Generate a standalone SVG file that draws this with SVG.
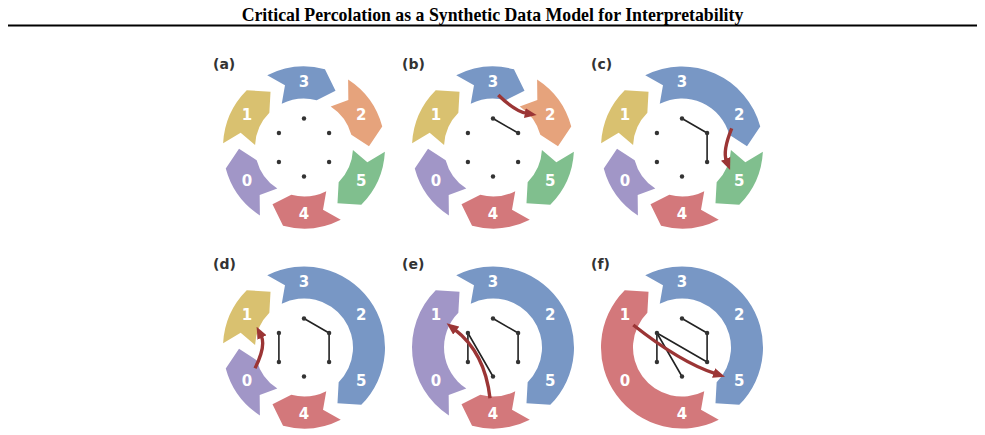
<svg xmlns="http://www.w3.org/2000/svg" xmlns:xlink="http://www.w3.org/1999/xlink" width="985" height="435" viewBox="0 0 985 435">
<style>
.title{font-family:"Liberation Serif","Times New Roman",serif;font-weight:bold;font-size:17.8px;fill:#000;text-anchor:middle}
.pl{font-family:"DejaVu Sans",sans-serif;font-weight:bold;font-size:14px;fill:#333}
.nl{font-family:"DejaVu Sans",sans-serif;font-weight:bold;font-size:15px;fill:#fff;text-anchor:middle}
.edge{stroke:#222;stroke-width:1.6;fill:none;stroke-linecap:round}
.dot{fill:#333}
.arr{stroke:#9b3535;stroke-width:3.4;fill:none;marker-end:url(#ah)}
.c3{fill:#7897c5}.c2{fill:#e6a37c}.c5{fill:#80bf8e}.c4{fill:#d3787b}.c0{fill:#a196c7}.c1{fill:#d9c170}
</style>
<defs>
<marker id="ah" markerUnits="userSpaceOnUse" markerWidth="12" markerHeight="10" viewBox="0 0 12 10" refX="2" refY="5" orient="auto">
<path d="M0,0 L12,5 L0,10 Z" fill="#9b3535"/>
</marker>
<path id="s3" d="M-36.77,-72.17 A81,81 0 0 1 20.96,-78.24 L31.51,-56.85 L12.68,-47.33 A49,49 0 0 0 -22.25,-43.66 L-19.01,-62.16 Z"/>
<path id="s2" d="M44.11,-67.93 A81,81 0 0 1 78.24,-20.96 L64.99,-1.13 L47.33,-12.68 A49,49 0 0 0 26.69,-41.10 L44.33,-47.54 Z"/>
<path id="s5" d="M80.89,4.24 A81,81 0 0 1 57.28,57.28 L33.48,55.72 L34.65,34.65 A49,49 0 0 0 48.93,2.56 L63.34,14.63 Z"/>
<path id="s4" d="M36.77,72.17 A81,81 0 0 1 -20.96,78.24 L-31.51,56.85 L-12.68,47.33 A49,49 0 0 0 22.25,43.66 L19.01,62.16 Z"/>
<path id="s0" d="M-44.11,67.93 A81,81 0 0 1 -78.24,20.96 L-64.99,1.13 L-47.33,12.68 A49,49 0 0 0 -26.69,41.10 L-44.33,47.54 Z"/>
<path id="s1" d="M-80.89,-4.24 A81,81 0 0 1 -57.28,-57.28 L-33.48,-55.72 L-34.65,-34.65 A49,49 0 0 0 -48.93,-2.56 L-63.34,-14.63 Z"/>
<path id="s32" d="M-36.77,-72.17 A81,81 0 0 1 78.24,-20.96 L64.99,-1.13 L47.33,-12.68 A49,49 0 0 0 -22.25,-43.66 L-19.01,-62.16 Z"/>
<path id="s325" d="M-36.77,-72.17 A81,81 0 0 1 57.28,57.28 L33.48,55.72 L34.65,34.65 A49,49 0 0 0 -22.25,-43.66 L-19.01,-62.16 Z"/>
<path id="s01" d="M-44.11,67.93 A81,81 0 0 1 -57.28,-57.28 L-33.48,-55.72 L-34.65,-34.65 A49,49 0 0 0 -26.69,41.10 L-44.33,47.54 Z"/>
<path id="s401" d="M36.77,72.17 A81,81 0 0 1 -57.28,-57.28 L-33.48,-55.72 L-34.65,-34.65 A49,49 0 0 0 22.25,43.66 L19.01,62.16 Z"/>
<g id="labels">
<text class="nl" x="0" y="-60.5">3</text>
<text class="nl" x="57.16" y="-27.5">2</text>
<text class="nl" x="57.16" y="38.5">5</text>
<text class="nl" x="0" y="71.5">4</text>
<text class="nl" x="-57.16" y="38.5">0</text>
<text class="nl" x="-57.16" y="-27.5">1</text>
</g>
<g id="dots">
<circle class="dot" cx="0" cy="-29" r="2.2"/>
<circle class="dot" cx="25.1" cy="-14.5" r="2.2"/>
<circle class="dot" cx="25.1" cy="14.5" r="2.2"/>
<circle class="dot" cx="0" cy="29" r="2.2"/>
<circle class="dot" cx="-25.1" cy="14.5" r="2.2"/>
<circle class="dot" cx="-25.1" cy="-14.5" r="2.2"/>
</g>
</defs>

<text class="title" x="492.5" y="20.5">Critical Percolation as a Synthetic Data Model for Interpretability</text>
<line x1="8" y1="25.5" x2="977" y2="25.5" stroke="#000" stroke-width="2"/>

<!-- panel a -->
<g id="panel-a" transform="translate(304,147.5)">
<text class="pl" x="-91" y="-78.5">(a)</text>
<g id="a-n3"><use href="#s3" class="c3"/></g>
<g id="a-n2"><use href="#s2" class="c2"/></g>
<g id="a-n5"><use href="#s5" class="c5"/></g>
<g id="a-n4"><use href="#s4" class="c4"/></g>
<g id="a-n0"><use href="#s0" class="c0"/></g>
<g id="a-n1"><use href="#s1" class="c1"/></g>
<use href="#labels"/>
<use href="#dots"/>
</g>

<!-- panel b -->
<g id="panel-b" transform="translate(493,147.5)">
<text class="pl" x="-91" y="-78.5">(b)</text>
<g id="b-n3"><use href="#s3" class="c3"/></g>
<g id="b-n2"><use href="#s2" class="c2"/></g>
<g id="b-n5"><use href="#s5" class="c5"/></g>
<g id="b-n4"><use href="#s4" class="c4"/></g>
<g id="b-n0"><use href="#s0" class="c0"/></g>
<g id="b-n1"><use href="#s1" class="c1"/></g>
<use href="#labels"/>
<g id="b-connectors">
<line class="edge" x1="0" y1="-29" x2="25.1" y2="-14.5"/>
<path class="arr" d="M5.3,-52.5 Q22,-36 33.8,-34.1"/>
</g>
<use href="#dots"/>
</g>

<!-- panel c -->
<g id="panel-c" transform="translate(682,147.5)">
<text class="pl" x="-91" y="-78.5">(c)</text>
<g id="c-n32"><use href="#s32" class="c3"/></g>
<g id="c-n5"><use href="#s5" class="c5"/></g>
<g id="c-n4"><use href="#s4" class="c4"/></g>
<g id="c-n0"><use href="#s0" class="c0"/></g>
<g id="c-n1"><use href="#s1" class="c1"/></g>
<use href="#labels"/>
<g id="c-connectors">
<line class="edge" x1="0" y1="-29" x2="25.1" y2="-14.5"/>
<line class="edge" x1="25.1" y1="-14.5" x2="25.1" y2="14.5"/>
<path class="arr" d="M49.7,-19.2 Q40.5,3.4 44.4,13.2"/>
</g>
<use href="#dots"/>
</g>

<!-- panel d -->
<g id="panel-d" transform="translate(304,347.5)">
<text class="pl" x="-91" y="-78.5">(d)</text>
<g id="d-n325"><use href="#s325" class="c3"/></g>
<g id="d-n4"><use href="#s4" class="c4"/></g>
<g id="d-n0"><use href="#s0" class="c0"/></g>
<g id="d-n1"><use href="#s1" class="c1"/></g>
<use href="#labels"/>
<g id="d-connectors">
<line class="edge" x1="0" y1="-29" x2="25.1" y2="-14.5"/>
<line class="edge" x1="25.1" y1="-14.5" x2="25.1" y2="14.5"/>
<line class="edge" x1="-25.1" y1="-14.5" x2="-25.1" y2="14.5"/>
<path class="arr" d="M-49,20.8 Q-37.8,-1.6 -42.9,-11.8"/>
</g>
<use href="#dots"/>
</g>

<!-- panel e -->
<g id="panel-e" transform="translate(493,347.5)">
<text class="pl" x="-91" y="-78.5">(e)</text>
<g id="e-n325"><use href="#s325" class="c3"/></g>
<g id="e-n4"><use href="#s4" class="c4"/></g>
<g id="e-n01"><use href="#s01" class="c0"/></g>
<use href="#labels"/>
<g id="e-connectors">
<line class="edge" x1="0" y1="-29" x2="25.1" y2="-14.5"/>
<line class="edge" x1="25.1" y1="-14.5" x2="25.1" y2="14.5"/>
<line class="edge" x1="-25.1" y1="-14.5" x2="-25.1" y2="14.5"/>
<line class="edge" x1="-25.1" y1="-14.5" x2="0" y2="29"/>
<path class="arr" d="M-3,50.8 Q-8,5.1 -38.4,-18.1"/>
</g>
<use href="#dots"/>
</g>

<!-- panel f -->
<g id="panel-f" transform="translate(682,347.5)">
<text class="pl" x="-91" y="-78.5">(f)</text>
<g id="f-n325"><use href="#s325" class="c3"/></g>
<g id="f-n401"><use href="#s401" class="c4"/></g>
<use href="#labels"/>
<g id="f-connectors">
<line class="edge" x1="0" y1="-29" x2="25.1" y2="-14.5"/>
<line class="edge" x1="25.1" y1="-14.5" x2="25.1" y2="14.5"/>
<line class="edge" x1="-25.1" y1="-14.5" x2="-25.1" y2="14.5"/>
<line class="edge" x1="-25.1" y1="-14.5" x2="0" y2="29"/>
<line class="edge" x1="-25.1" y1="-14.5" x2="25.1" y2="14.5"/>
<path class="arr" d="M-48.7,-22.5 Q-1.2,15 33.5,26.2"/>
</g>
<use href="#dots"/>
</g>
</svg>
